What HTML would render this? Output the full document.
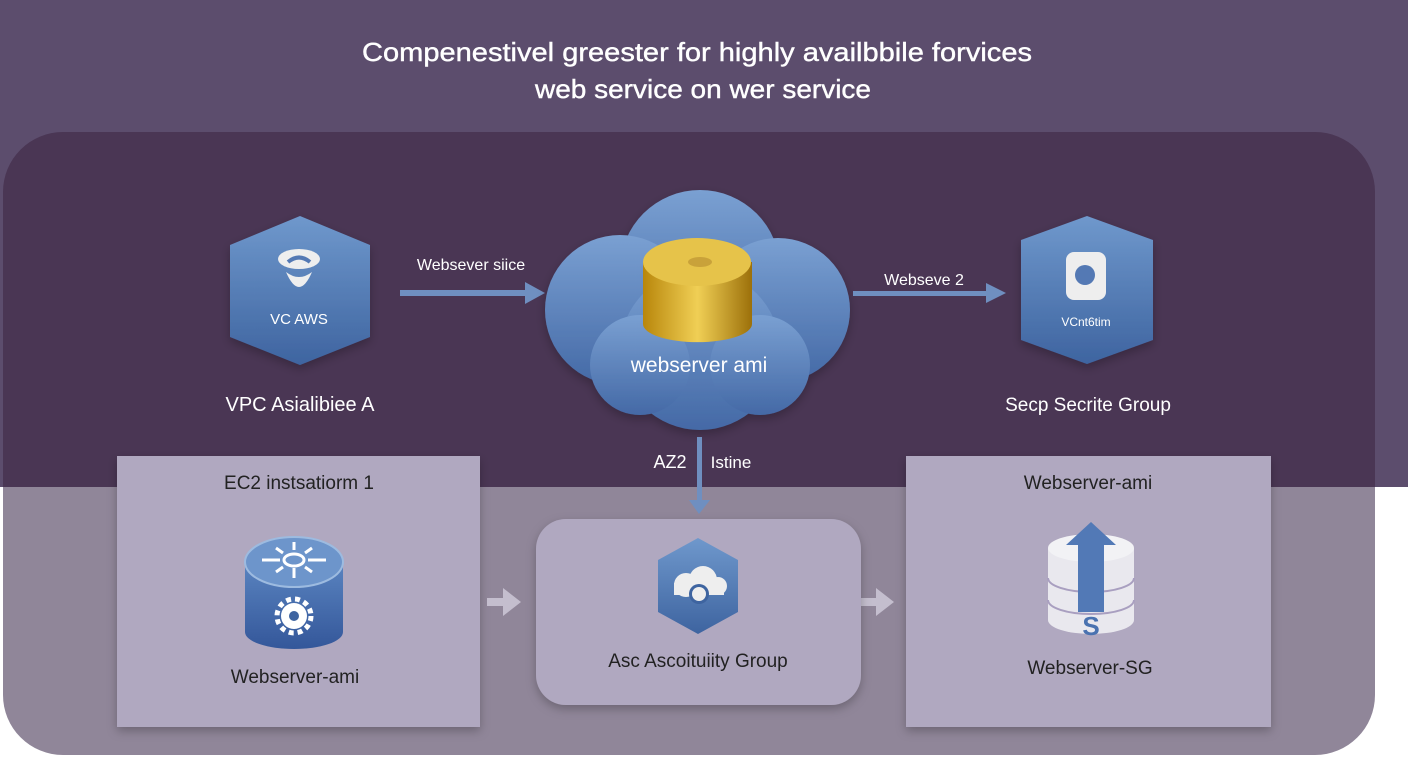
<!DOCTYPE html>
<html><head><meta charset="utf-8"><style>
html,body{margin:0;padding:0;width:1408px;height:768px;overflow:hidden;background:#fff;font-family:"Liberation Sans",sans-serif}
</style></head><body>
<svg width="1408" height="768" viewBox="0 0 1408 768" xmlns="http://www.w3.org/2000/svg" font-family="Liberation Sans, sans-serif">
<defs>
<linearGradient id="hex" x1="0" y1="0" x2="0" y2="1"><stop offset="0" stop-color="#6f98cc"/><stop offset="1" stop-color="#3e64a0"/></linearGradient>
<linearGradient id="cl" x1="0" y1="0" x2="0" y2="1"><stop offset="0" stop-color="#7aa0d2"/><stop offset="1" stop-color="#4469a6"/></linearGradient>
<linearGradient id="gold" x1="0" y1="0" x2="1" y2="0"><stop offset="0" stop-color="#b8860b"/><stop offset=".5" stop-color="#f0cf55"/><stop offset="1" stop-color="#9c700a"/></linearGradient>
<linearGradient id="cyl" x1="0" y1="0" x2="0" y2="1"><stop offset="0" stop-color="#5a84c0"/><stop offset="1" stop-color="#34579a"/></linearGradient>
<filter id="sh" x="-20%" y="-20%" width="140%" height="140%"><feDropShadow dx="0" dy="4" stdDeviation="5" flood-color="#000" flood-opacity=".25"/></filter>
<clipPath id="cc"><rect x="3" y="132" width="1372" height="623" rx="60"/></clipPath>
</defs>
<rect width="1408" height="487" fill="#5c4d6d"/>
<g clip-path="url(#cc)">
<rect x="0" y="132" width="1408" height="355" fill="#4a3654"/>
<rect x="0" y="487" width="1408" height="300" fill="#908699"/>
</g>
<text x="362" y="61" textLength="670" lengthAdjust="spacingAndGlyphs" fill="#fff" font-size="26" stroke="#fff" stroke-width="0.4">Compenestivel greester for highly availbbile  forvices</text>
<text x="535" y="98" textLength="336" lengthAdjust="spacingAndGlyphs" fill="#fff" font-size="26" stroke="#fff" stroke-width="0.4">web service  on wer service</text>

<!-- left hex -->
<polygon points="300,216 370,245 370,337 300,365 230,337 230,245" fill="url(#hex)" filter="url(#sh)"/>
<ellipse cx="299" cy="259" rx="21" ry="10" fill="#eee"/>
<path d="M288 262 q11 -9 22 0" stroke="#5479b4" stroke-width="4" fill="none"/>
<path d="M286 272 q13 30 26 0 q-13 10 -26 0z" fill="#eee"/>
<text x="299" y="324" text-anchor="middle" fill="#fff" font-size="15">VC AWS</text>
<text x="300" y="411" text-anchor="middle" fill="#fff" font-size="20">VPC Asialibiee A</text>

<!-- arrow 1 -->
<text x="471" y="270" text-anchor="middle" fill="#fff" font-size="16">Websever siice</text>
<rect x="400" y="290" width="125" height="6" fill="#6f8fc0"/>
<polygon points="525,282 545,293 525,304" fill="#6f8fc0"/>

<!-- cloud -->
<g fill="url(#cl)" filter="url(#sh)">
<circle cx="700" cy="270" r="80"/>
<circle cx="620" cy="310" r="75"/>
<circle cx="778" cy="310" r="72"/>
<circle cx="700" cy="350" r="80"/>
<circle cx="640" cy="365" r="50"/>
<circle cx="760" cy="365" r="50"/>
</g>
<path d="M643 262 v62 a54 18 0 0 0 109 0 v-62z" fill="url(#gold)"/>
<ellipse cx="697" cy="262" rx="54" ry="24" fill="#e6c34a"/>
<ellipse cx="700" cy="262" rx="12" ry="5" fill="#c9a23a"/>
<text x="699" y="372" text-anchor="middle" fill="#fff" font-size="21">webserver ami</text>

<!-- arrow 2 -->
<text x="924" y="285" text-anchor="middle" fill="#fff" font-size="16">Webseve 2</text>
<rect x="853" y="291" width="135" height="5" fill="#6f8fc0"/>
<polygon points="986,283 1006,293 986,303" fill="#6f8fc0"/>

<!-- right hex -->
<polygon points="1087,216 1153,240 1153,340 1087,364 1021,340 1021,240" fill="url(#hex)" filter="url(#sh)"/>
<rect x="1066" y="252" width="40" height="48" rx="8" fill="#eee"/>
<circle cx="1085" cy="275" r="10" fill="#5479b4"/>
<text x="1086" y="326" text-anchor="middle" fill="#fff" font-size="12">VCnt6tim</text>
<text x="1088" y="411" text-anchor="middle" fill="#fff" font-size="19">Secp Secrite Group</text>

<!-- down arrow -->
<rect x="697" y="437" width="5" height="66" fill="#6f8fc0"/>
<polygon points="689,500 710,500 699,514" fill="#6f8fc0"/>
<text x="670" y="468" text-anchor="middle" fill="#fff" font-size="18">AZ2</text>
<text x="731" y="468" text-anchor="middle" fill="#fff" font-size="17">Istine</text>

<!-- left box -->
<rect x="117" y="456" width="363" height="271" fill="#b0a8c0" filter="url(#sh)"/>
<text x="299" y="489" text-anchor="middle" fill="#222" font-size="19">EC2 instsatiorm 1</text>
<path d="M245 562 v70 a49 17 0 0 0 98 0 v-70z" fill="url(#cyl)"/>
<ellipse cx="294" cy="562" rx="49" ry="25" fill="#6d95cb" stroke="#9dbbe0" stroke-width="2"/>
<ellipse cx="294" cy="560" rx="10" ry="6" fill="none" stroke="#fff" stroke-width="3"/>
<g stroke="#fff" stroke-width="3"><line x1="262" y1="560" x2="280" y2="560"/><line x1="308" y1="560" x2="326" y2="560"/><line x1="294" y1="542" x2="294" y2="550"/><line x1="294" y1="568" x2="294" y2="578"/><line x1="276" y1="548" x2="283" y2="553"/><line x1="312" y1="548" x2="305" y2="553"/><line x1="276" y1="572" x2="283" y2="567"/><line x1="312" y1="572" x2="305" y2="567"/></g>
<circle cx="294" cy="616" r="13" fill="#fff"/><circle cx="294" cy="616" r="17" fill="none" stroke="#fff" stroke-width="5" stroke-dasharray="5 4"/><circle cx="294" cy="616" r="5" fill="#3e64a0"/>
<text x="295" y="683" text-anchor="middle" fill="#222" font-size="19">Webserver-ami</text>

<!-- grey arrows -->
<rect x="487" y="598" width="18" height="8" fill="#c4bece"/><polygon points="503,588 521,602 503,616" fill="#c4bece"/>
<rect x="860" y="598" width="18" height="8" fill="#c4bece"/><polygon points="876,588 894,602 876,616" fill="#c4bece"/>

<!-- center box -->
<rect x="536" y="519" width="325" height="186" rx="30" fill="#b0a8c0" filter="url(#sh)"/>
<polygon points="698,538 738,560 738,612 698,634 658,612 658,560" fill="url(#hex)"/>
<circle cx="686" cy="585" r="12" fill="#eee"/><circle cx="703" cy="580" r="14" fill="#eee"/><circle cx="718" cy="586" r="9" fill="#eee"/><rect x="674" y="583" width="50" height="12" fill="#eee"/>
<circle cx="699" cy="594" r="10" fill="#3e64a0"/><circle cx="699" cy="594" r="7" fill="#eee"/>
<text x="698" y="667" text-anchor="middle" fill="#222" font-size="19">Asc Ascoituiity Group</text>

<!-- right box -->
<rect x="906" y="456" width="365" height="271" fill="#b0a8c0" filter="url(#sh)"/>
<text x="1088" y="489" text-anchor="middle" fill="#222" font-size="19">Webserver-ami</text>
<path d="M1048 548 v72 a43 14 0 0 0 86 0 v-72z" fill="#e9e8ee"/>
<ellipse cx="1091" cy="548" rx="43" ry="14" fill="#f2f2f5"/>
<path d="M1048 578 a43 14 0 0 0 86 0 M1048 600 a43 14 0 0 0 86 0" stroke="#a99fc0" stroke-width="2" fill="none"/>
<polygon points="1091,522 1116,545 1104,545 1104,612 1078,612 1078,545 1066,545" fill="#5279b6"/>
<text x="1091" y="635" text-anchor="middle" fill="#4a72b0" font-size="26" font-weight="bold">S</text>
<text x="1090" y="674" text-anchor="middle" fill="#222" font-size="19">Webserver-SG</text>
</svg>
</body></html>
